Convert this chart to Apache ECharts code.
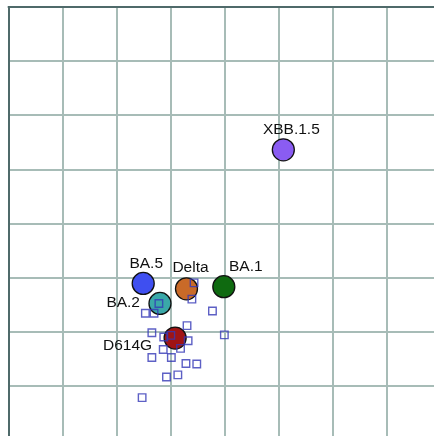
<!DOCTYPE html>
<html>
<head>
<meta charset="utf-8">
<script src="https://cdn.jsdelivr.net/npm/echarts@6/dist/echarts.min.js"></script>
<style>
html,body{margin:0;padding:0;background:#fff;}
#chart{width:434px;height:436px;}
</style>
</head>
<body>
<div id="chart"></div>
<script>
// Data (map units)
var antigenNames = ['XBB.1.5', 'BA.5', 'Delta', 'BA.1', 'BA.2', 'D614G'];
var antigenX = [5.08, 2.49, 3.29, 3.98, 2.80, 3.08];
var antigenY = [2.64, 5.11, 5.21, 5.17, 5.48, 6.12];

var seraX = [3.43, 3.39, 3.77, 2.78, 2.53, 2.69, 3.30, 3.99, 2.65, 2.87, 3.00,
             3.32, 3.18, 2.86, 3.01, 2.65, 3.28, 3.48, 2.92, 3.13, 2.47];
var seraY = [5.10, 5.40, 5.62, 5.48, 5.66, 5.66, 5.89, 6.06, 6.02, 6.10, 6.07,
             6.17, 6.31, 6.33, 6.48, 6.48, 6.59, 6.60, 6.84, 6.80, 7.22];

// Styles (kept separate from data)
var antigenColors = {
  'XBB.1.5': '#8a5cf2',
  'BA.5': '#3f4ff0',
  'Delta': '#c96a28',
  'BA.1': '#0f6a10',
  'BA.2': '#3aa8a8',
  'D614G': '#a01414'
};
var labelLayout = {
  'XBB.1.5': {offset: [8, -20], align: 'center'},
  'BA.5': {offset: [3, -20], align: 'center'},
  'Delta': {offset: [4, -21], align: 'center'},
  'BA.1': {offset: [22, -20], align: 'center'},
  'BA.2': {offset: [-20, -1], align: 'right'},
  'D614G': {offset: [-23, 8], align: 'right'}
};

var antigenData = antigenNames.map(function (n, i) {
  var L = labelLayout[n];
  return {
    name: n,
    value: [antigenX[i], antigenY[i]],
    itemStyle: {color: antigenColors[n]},
    label: {show: true, formatter: n, position: 'inside', offset: L.offset, align: L.align, verticalAlign: 'middle'}
  };
});
var seraData = seraX.map(function (x, i) { return [x, seraY[i]]; });

var chart = echarts.init(document.getElementById('chart'), null, {renderer: 'canvas'});
chart.setOption({
  animation: false,
  backgroundColor: '#ffffff',
  grid: {left: 8.5, top: 7, width: 432.8, height: 432.8, containLabel: false, outerBoundsMode: 'none'},
  xAxis: {
    type: 'value', min: 0, max: 8, interval: 1, position: 'top',
    axisLine: {show: true, onZero: false, lineStyle: {color: '#4f6a6a', width: 2}},
    axisTick: {show: false}, axisLabel: {show: false},
    splitLine: {show: true, lineStyle: {color: '#a7bcb7', width: 2}}
  },
  yAxis: {
    type: 'value', min: 0, max: 8, interval: 1, inverse: true, position: 'left',
    axisLine: {show: true, onZero: false, lineStyle: {color: '#4f6a6a', width: 2}},
    axisTick: {show: false}, axisLabel: {show: false},
    splitLine: {show: true, lineStyle: {color: '#a7bcb7', width: 2}}
  },
  series: [
    {
      type: 'scatter',
      data: antigenData,
      symbol: 'circle',
      symbolSize: 22,
      itemStyle: {borderColor: '#111', borderWidth: 1.3, opacity: 1},
      label: {color: '#111', fontFamily: 'Liberation Sans, Arial, sans-serif', fontSize: 15.5},
      z: 2
    },
    {
      type: 'scatter',
      data: seraData,
      symbol: 'rect',
      symbolSize: 7.5,
      itemStyle: {color: 'rgba(0,0,0,0)', borderColor: '#3438b6', borderWidth: 1.4},
      z: 3
    }
  ]
});
</script>
</body>
</html>
